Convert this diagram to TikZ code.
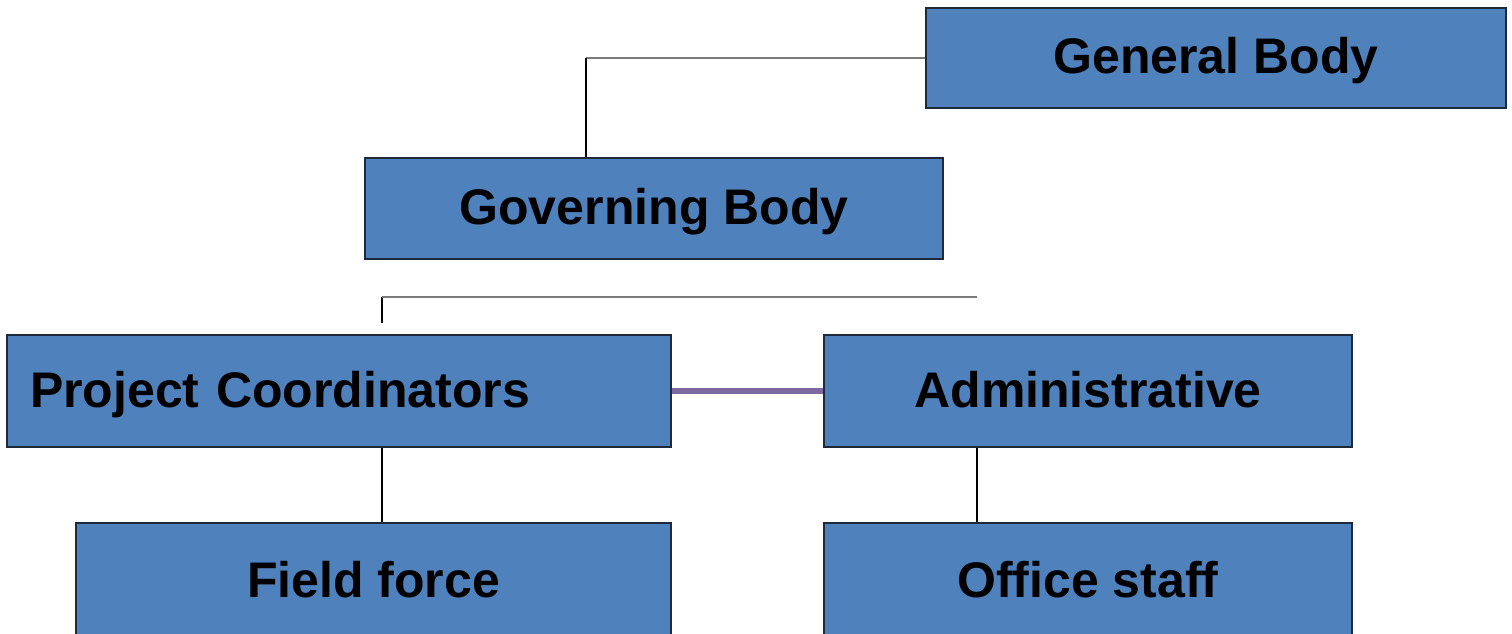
\documentclass[tikz,border=0pt]{standalone}
\usepackage{fontspec}
\setmainfont{Liberation Sans}
\definecolor{boxblue}{HTML}{4F81BD}
\definecolor{boxedge}{HTML}{1E2A3A}
\definecolor{linkgray}{HTML}{7A7A7A}
\definecolor{linkpurple}{HTML}{7D68A0}
\begin{document}
\begin{tikzpicture}[x=1pt,y=-1pt,
  orgbox/.style={draw=boxedge, line width=1.6pt, fill=boxblue, rectangle,
    font=\fontsize{50}{60}\selectfont\bfseries, text=black, inner sep=0pt,
    text height=36pt, text depth=4pt},
  hlink/.style={draw=linkgray, line width=1.8pt},
  vlink/.style={draw=black, line width=1.4pt},
  plink/.style={draw=linkpurple, line width=6pt}]
\useasboundingbox (0,0) rectangle (1512,634);
\fill[white] (0,0) rectangle (1512,634);
\node[orgbox, minimum width=580pt, minimum height=100pt] (gen) at (1216,58) {General Body};
\node[orgbox, minimum width=578pt, minimum height=101pt] (gov) at (654,208.5) {Governing Body};
\node[orgbox, minimum height=112pt, text width=618pt, inner xsep=23pt, align=left] (pc) at (339,391) {Project Coordinators};
\node[orgbox, minimum width=528pt, minimum height=112pt] (adm) at (1088,391) {Administrative};
\node[orgbox, minimum width=595pt, minimum height=117pt] (ff) at (373.5,581.5) {Field force};
\node[orgbox, minimum width=528pt, minimum height=117pt] (os) at (1088,581.5) {Office staff};
% General Body -> Governing Body
\coordinate (gk) at (586,58);
\draw[hlink] (gen.west) -- (gk);
\draw[vlink] (gk) -- (gov.north -| gk);
% free bracket above second row
\coordinate (b1) at (382,323);
\coordinate (b2) at (382,297);
\coordinate (b3) at (977,297);
\draw[vlink] (b1) -- (b2);
\draw[hlink] (b2) -- (b3);
% purple link
\draw[plink] (pc.east) -- (adm.west);
% lower links
\draw[vlink] (pc.south -| 382,0) -- (ff.north -| 382,0);
\draw[vlink] (adm.south -| 977,0) -- (os.north -| 977,0);
\end{tikzpicture}
\end{document}
